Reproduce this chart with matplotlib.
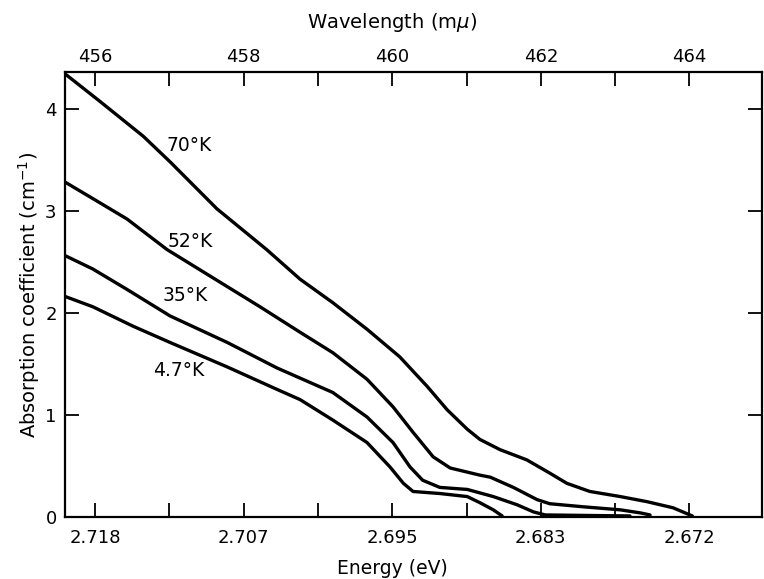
import matplotlib
matplotlib.use("Agg")
import matplotlib.pyplot as plt
from matplotlib.ticker import FixedLocator

# ---- data (x = wavelength in m-mu, y = absorption coefficient in cm^-1) ----
wl_70 = [455.60, 456.07, 456.65, 457.01, 457.64, 458.31, 458.76, 459.20, 459.66, 460.10,
         460.47, 460.74, 461.01, 461.18, 461.45, 461.81, 462.12, 462.35, 462.66, 463.07,
         463.43, 463.78, 464.04]
ab_70 = [4.34, 4.07, 3.73, 3.48, 3.02, 2.62, 2.33, 2.10, 1.84, 1.57,
         1.28, 1.05, 0.86, 0.76, 0.66, 0.56, 0.43, 0.33, 0.25, 0.20,
         0.15, 0.09, 0.01]

wl_52 = [455.60, 455.97, 456.43, 456.97, 457.55, 458.22, 458.76, 459.20, 459.66, 460.01,
         460.28, 460.55, 460.78, 461.18, 461.32, 461.63, 461.95, 462.12, 462.57, 463.07,
         463.34, 463.47]
ab_52 = [3.28, 3.12, 2.92, 2.62, 2.36, 2.06, 1.81, 1.61, 1.35, 1.08,
         0.83, 0.59, 0.48, 0.41, 0.39, 0.29, 0.17, 0.13, 0.10, 0.07,
         0.04, 0.02]

wl_35 = [455.60, 455.97, 456.43, 457.01, 457.78, 458.45, 459.20, 459.66, 460.01, 460.24,
         460.41, 460.64, 461.01, 461.36, 461.68, 461.90, 462.06, 463.20]
ab_35 = [2.56, 2.43, 2.23, 1.97, 1.71, 1.46, 1.22, 0.98, 0.73, 0.49,
         0.36, 0.29, 0.27, 0.20, 0.12, 0.05, 0.02, 0.01]

wl_4 = [455.60, 455.97, 456.51, 457.01, 457.78, 458.45, 458.76, 459.20, 459.66, 459.97,
        460.15, 460.28, 460.64, 461.01, 461.18, 461.36, 461.48]
ab_4 = [2.16, 2.06, 1.87, 1.71, 1.47, 1.25, 1.15, 0.95, 0.73, 0.49,
        0.33, 0.25, 0.23, 0.20, 0.14, 0.07, 0.01]

curve_labels = ["70°K", "52°K", "35°K", "4.7°K"]
label_pos = [(457.27, 3.64), (457.28, 2.70), (457.22, 2.17), (457.12, 1.44)]

wl_major = [456, 458, 460, 462, 464]
wl_minor = [457, 459, 461, 463]
wl_labels = ["456", "458", "460", "462", "464"]
energy_labels = ["2.718", "2.707", "2.695", "2.683", "2.672"]
y_ticks = [0, 1, 2, 3, 4]
y_labels = ["0", "1", "2", "3", "4"]

plt.rcParams['font.family'] = ['DejaVu Sans']

fig = plt.figure(figsize=(7.64, 5.79), dpi=100)
ax = fig.add_axes([0.0851, 0.1071, 0.9123, 0.7685])

for wl, ab in [(wl_70, ab_70), (wl_52, ab_52), (wl_35, ab_35), (wl_4, ab_4)]:
    ax.plot(wl, ab, color='black', lw=2.4, solid_joinstyle='round', solid_capstyle='round')

for txt, (xx, yy) in zip(curve_labels, label_pos):
    ax.text(xx, yy, txt, fontsize=13.5, ha='center', va='center')

ax.set_xlim(455.596, 464.977)
ax.set_ylim(0, 4.36)

for sp in ax.spines.values():
    sp.set_linewidth(1.6)

ax.xaxis.set_major_locator(FixedLocator(wl_major))
ax.xaxis.set_minor_locator(FixedLocator(wl_minor))
ax.set_xticklabels(energy_labels)
ax.set_yticks(y_ticks)
ax.set_yticklabels(y_labels)

ax.tick_params(axis='x', which='both', direction='in', length=10, width=1.3,
               top=True, labeltop=False, pad=9, labelsize=13)
ax.tick_params(axis='y', which='both', direction='in', length=10, width=1.3,
               right=True, pad=6, labelsize=13)

sec = ax.secondary_xaxis('top')
sec.xaxis.set_major_locator(FixedLocator(wl_major))
sec.xaxis.set_minor_locator(FixedLocator(wl_minor))
sec.set_xticklabels(wl_labels)
sec.tick_params(axis='x', which='both', direction='in', length=0, pad=4, labelsize=13)
sec.spines['top'].set_visible(False)

ax.set_ylabel("Absorption coefficient (cm$^{-1}$)", fontsize=14, labelpad=2)
fig.text(392 / 764, 1 - 569 / 579, "Energy (eV)", fontsize=13.5, ha='center', va='center')
fig.text(392 / 764, 1 - 23 / 579, "Wavelength (m$\\mu$)", fontsize=14, ha='center', va='center')

fig.savefig("out.png", dpi=100)
